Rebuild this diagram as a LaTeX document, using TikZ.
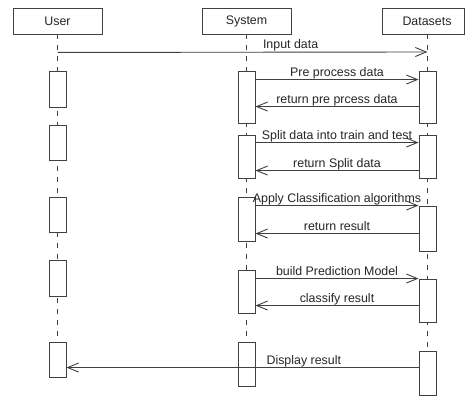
\documentclass[tikz,border=0pt]{standalone}
\usepackage{fontspec}
\setmainfont{Liberation Sans}
\usetikzlibrary{arrows.meta}
\begin{document}
\begin{tikzpicture}[x=1pt,y=-1pt,
  line width=0.9pt,
  every node/.style={font=\fontsize{12.4pt}{14pt}\selectfont, text=black!85},
  head/.style={draw=black!75, fill=white, minimum width=89pt, minimum height=26pt, inner sep=0pt},
  act/.style={draw=black!75, fill=white, minimum width=17pt, inner sep=0pt},
  life/.style={draw=black!75, dash pattern=on 5pt off 6pt},
  msg/.style={draw=black!75, -{Straight Barb[length=11pt,width=9pt]}},
  lbl/.style={anchor=base, yshift=3.5pt, inner sep=0pt}]
\useasboundingbox (0,0) rectangle (465,396);
\fill[white] (0,0) rectangle (465,396);
% headers
\node[head] (U) at (57.5,21) {User};
\node[head] (S) at (246.5,21) {System};
\node[head, minimum width=82pt] (D) at (423.5,21) {\hspace*{7pt}Datasets};
\coordinate (Dl) at (427.5,34);
% lifelines
\path (57.5,377) coordinate (Ue) (246.5,386) coordinate (Se);
\draw[life] (U.south) -- (Ue);
\draw[life] (S.south) -- (Se);
\draw[life] (Dl) -- (427.5,351);
% activation boxes: User
\node[act, minimum height=36pt] (u1) at (57.5,89) {};
\node[act, minimum height=35pt] (u2) at (57.5,142.5) {};
\node[act, minimum height=35pt] (u3) at (57.5,214.5) {};
\node[act, minimum height=36pt] (u4) at (57.5,278) {};
\node[act, minimum height=35pt] (u5) at (57.5,359.5) {};
% System
\node[act, minimum height=52pt] (s1) at (246.5,97) {};
\node[act, minimum height=43pt] (s2) at (246.5,156.5) {};
\node[act, minimum height=44pt] (s3) at (246.5,219) {};
\node[act, minimum height=43pt] (s4) at (246.5,291.5) {};
\node[act, minimum height=44pt] (s5) at (246.5,364) {};
% Datasets
\node[act, minimum height=52pt] (d1) at (427.5,97) {};
\node[act, minimum height=43pt] (d2) at (427.5,156.5) {};
\node[act, minimum height=45pt] (d3) at (427.5,228.5) {};
\node[act, minimum height=43pt] (d4) at (427.5,300.5) {};
\node[act, minimum height=44pt] (d5) at (427.5,373) {};
% messages
\draw[msg] ([yshift=-18pt]U.south) -- ([yshift=-18pt]Dl) node[lbl, pos=0.63] {Input data};
\draw[msg] ([yshift=-9pt]s1.north east) -- ([yshift=-9pt]d1.north west) node[lbl, midway] {Pre process data};
\draw[msg] ([yshift=-36pt]d1.north west) -- ([yshift=-36pt]s1.north east) node[lbl, midway] {return pre prcess data};
\draw[msg] ([yshift=-8pt]s2.north east) -- ([yshift=-8pt]d2.north west) node[lbl, midway] {Split data into train and test};
\draw[msg] ([yshift=-36pt]d2.north west) -- ([yshift=-36pt]s2.north east) node[lbl, midway] {return Split data};
\draw[msg] ([yshift=-9pt]s3.north east) -- (d3.north west) node[lbl, midway] {Apply Classification algorithms};
\draw[msg] ([yshift=-28pt]d3.north west) -- ([yshift=-37pt]s3.north east) node[lbl, midway] {return result};
\draw[msg] ([yshift=-9pt]s4.north east) -- (d4.north west) node[lbl, midway] {build Prediction Model};
\draw[msg] ([yshift=-27pt]d4.north west) -- ([yshift=-36pt]s4.north east) node[lbl, midway] {classify result};
\draw[msg] ([yshift=-17pt]d5.north west) -- ([yshift=-26pt]u5.north east) node[lbl, pos=0.326] {Display result};
\end{tikzpicture}
\end{document}
